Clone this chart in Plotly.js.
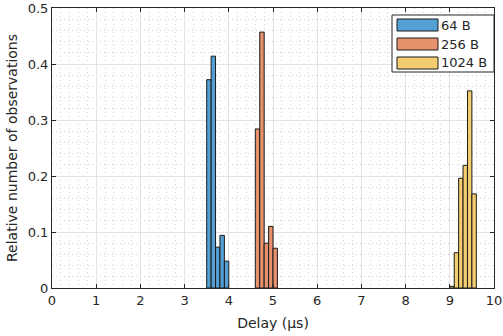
<!DOCTYPE html>
<html>
<head>
<meta charset="utf-8">
<script src="https://cdn.plot.ly/plotly-3.0.1.min.js"></script>
<style>html,body{margin:0;padding:0;background:#fff;}#chart{width:503px;height:336px;}</style>
</head>
<body>
<div id="chart"></div>
<script>
const seriesNames = ['64 B', '256 B', '1024 B'];
const binCenters64 = [3.55, 3.65, 3.75, 3.85, 3.95];
const values64 = [0.372, 0.414, 0.073, 0.094, 0.048];
const binCenters256 = [4.65, 4.75, 4.85, 4.95, 5.05];
const values256 = [0.284, 0.457, 0.080, 0.110, 0.071];
const binCenters1024 = [9.05, 9.15, 9.25, 9.35, 9.45, 9.55];
const values1024 = [0.003, 0.063, 0.196, 0.219, 0.352, 0.168];
const xTickVals = [0, 1, 2, 3, 4, 5, 6, 7, 8, 9, 10];
const yTickVals = [0, 0.1, 0.2, 0.3, 0.4, 0.5];
const yTickText = ['0', '0.1', '0.2', '0.3', '0.4', '0.5'];
const binWidth = 0.1;
const colors = ['rgb(84,160,212)', 'rgb(228,145,108)', 'rgb(243,205,112)'];

const xs = [binCenters64, binCenters256, binCenters1024];
const ys = [values64, values256, values1024];

const traces = xs.map((x, i) => ({
  type: 'bar', x: x, y: ys[i], width: binWidth, name: seriesNames[i],
  marker: {color: colors[i], line: {color: '#1a1a1a', width: 1}},
  showlegend: false
}));

const axisCommon = {
  showline: true, linecolor: '#262626', linewidth: 1, mirror: 'ticks',
  ticks: 'inside', ticklen: 4, tickcolor: '#262626',
  showgrid: true, gridcolor: '#e3e3e3', gridwidth: 1, zeroline: false,
  tickfont: {family: 'DejaVu Sans', size: 13, color: '#262626'}
};
const minorGrid = {showgrid: true, gridcolor: '#d6d6d6', griddash: '1px,3px', gridwidth: 1, ticks: ''};

// custom legend (MATLAB-style wide swatches), in paper coordinates of the plot area
const plotL = 52, plotR = 494, plotT = 8, plotB = 288;
const px = v => (v - plotL) / (plotR - plotL);
const py = v => (plotB - v) / (plotB - plotT);
const shapes = [{type: 'rect', xref: 'paper', yref: 'paper',
  x0: px(392), x1: px(494), y0: py(72), y1: py(15),
  line: {color: '#262626', width: 1}, fillcolor: '#fff', layer: 'above'}];
const annotations = [];
const rowY = [25, 44, 63];
seriesNames.forEach((name, i) => {
  shapes.push({type: 'rect', xref: 'paper', yref: 'paper',
    x0: px(397), x1: px(438), y0: py(rowY[i] + 6), y1: py(rowY[i] - 6),
    line: {color: '#1a1a1a', width: 1}, fillcolor: colors[i], layer: 'above'});
  annotations.push({xref: 'paper', yref: 'paper', x: px(439), y: py(rowY[i]),
    xanchor: 'left', yanchor: 'middle', showarrow: false, text: name,
    font: {family: 'DejaVu Sans', size: 13, color: '#262626'}});
});

const layout = {
  width: 503, height: 336,
  margin: {l: 52, r: 9, t: 8, b: 48},
  paper_bgcolor: '#fff', plot_bgcolor: '#fff',
  bargap: 0, barmode: 'overlay',
  font: {family: 'DejaVu Sans', color: '#262626'},
  xaxis: Object.assign({}, axisCommon, {
    range: [0, 10], tickmode: 'array', tickvals: xTickVals,
    minor: Object.assign({dtick: 0.2, tick0: 0}, minorGrid),
    title: {text: 'Delay (μs)', font: {family: 'DejaVu Sans', size: 14, color: '#262626'}, standoff: 11}
  }),
  yaxis: Object.assign({}, axisCommon, {
    range: [0, 0.5], tickmode: 'array', tickvals: yTickVals, ticktext: yTickText,
    minor: Object.assign({dtick: 0.02, tick0: 0}, minorGrid),
    title: {text: 'Relative number of observations', font: {family: 'DejaVu Sans', size: 14, color: '#262626'}, standoff: 6}
  }),
  showlegend: false,
  shapes: shapes,
  annotations: annotations
};

Plotly.newPlot('chart', traces, layout, {displayModeBar: false, staticPlot: true});
</script>
</body>
</html>
